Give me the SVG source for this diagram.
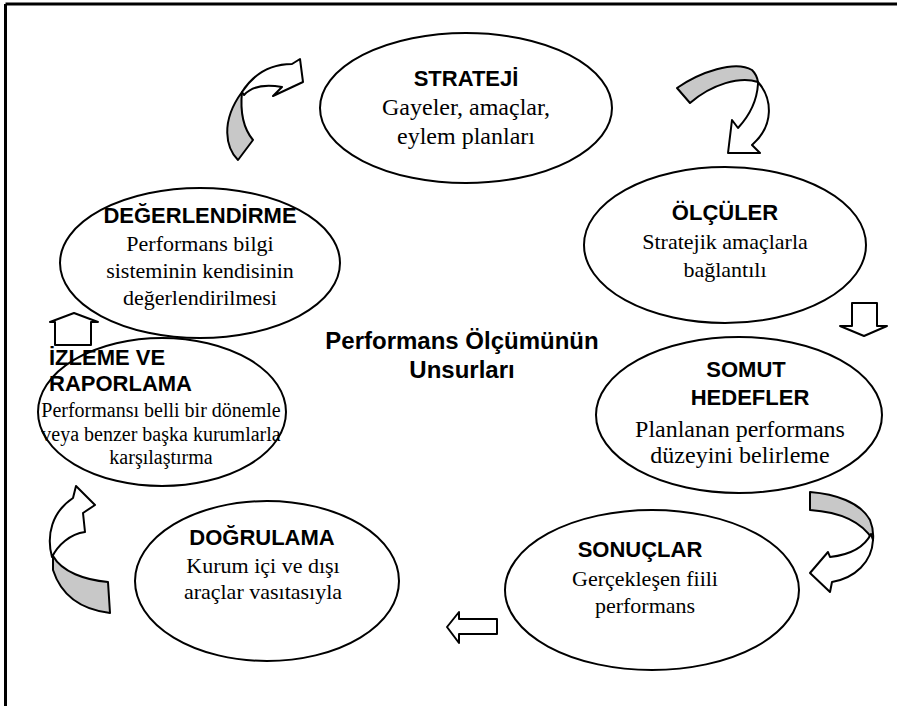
<svg xmlns="http://www.w3.org/2000/svg" width="913" height="706" viewBox="0 0 913 706">
  <style>
    .node ellipse { fill: #ffffff; stroke: #000000; stroke-width: 2; }
    .hd { font-family: "Liberation Sans", Arial, sans-serif; font-weight: bold; font-size: 22px; fill: #000; text-anchor: middle; }
    .tx { font-family: "Liberation Serif", "Times New Roman", serif; font-size: 22px; fill: #000; text-anchor: middle; }
    .title { font-family: "Liberation Sans", Arial, sans-serif; font-weight: bold; font-size: 24px; fill: #000; text-anchor: middle; }
    .back { fill: #c8c8c8; stroke: #000; stroke-width: 2; stroke-linejoin: round; }
    .front { fill: #ffffff; stroke: #000; stroke-width: 2; stroke-linejoin: round; }
    .frame { fill: none; stroke: #000; stroke-width: 3; }
  </style>

  <rect x="0" y="0" width="913" height="706" fill="#ffffff"/>

  <!-- page frame -->
  <g id="frame">
    <line class="frame" x1="5.5" y1="4" x2="897" y2="4"/>
    <line class="frame" x1="5.5" y1="4" x2="5.5" y2="706"/>
  </g>

  <!-- connectors: block arrows and twisted curved arrows -->
  <g id="connectors">
    <!-- STRATEJİ -> ÖLÇÜLER -->
    <g id="arrow-strateji-olculer">
      <path class="back" d="M677,88 C700,72 735,60 752,70 Q757,75 758,82 C740,76 712,84 690,103 Z"/>
      <path class="front" d="M758,82 C772,98 775,125 752,145 L760,153 L728,153 L732,120 L738,128 C750,115 757,100 758,84 Z"/>
    </g>
    <!-- ÖLÇÜLER -> SOMUT HEDEFLER -->
    <path id="arrow-olculer-somut" class="front" d="M852,303 L877,303 L877,326 L887,326 L864,336 L840,326 L852,326 Z"/>
    <!-- SOMUT HEDEFLER -> SONUÇLAR -->
    <g id="arrow-somut-sonuclar">
      <path class="back" d="M810,492 C835,494 860,502 870,520 Q874,530 873,540 C862,522 840,512 810,510 Z"/>
      <path class="front" d="M873,540 C872,562 855,578 832,582 L830,592 L810,573 L828,552 L830,557 C848,555 864,548 871,534 Z"/>
    </g>
    <!-- SONUÇLAR -> DOĞRULAMA -->
    <path id="arrow-sonuclar-dogrulama" class="front" d="M497,619 L497,634 L459,634 L459,643 L447,627 L459,612 L459,619 Z"/>
    <!-- DOĞRULAMA -> İZLEME VE RAPORLAMA -->
    <g id="arrow-dogrulama-izleme">
      <path class="back" d="M53,556 C62,572 85,580 108,582 L110,613 C85,610 62,598 53,570 Z"/>
      <path class="front" d="M52,557 C46,535 52,512 73,498 L76,486 L95,505 L83,513 L85,532 C70,534 58,545 52,557 Z"/>
    </g>
    <!-- İZLEME VE RAPORLAMA -> DEĞERLENDİRME -->
    <path id="arrow-izleme-degerlendirme" class="front" d="M55,345 L55,322 L50,322 L74,313 L98,322 L91,322 L91,345 Z"/>
    <!-- DEĞERLENDİRME -> STRATEJİ -->
    <g id="arrow-degerlendirme-strateji">
      <path class="back" d="M238,160 C226,148 220,122 242,92 C240,112 243,128 253,140 Z"/>
      <path class="front" d="M242,92 C255,72 272,64 292,64 L300,59 L303,82 L273,96 L282,87 C265,84 252,86 244,95 Z"/>
    </g>
  </g>

  <g id="node-strateji" class="node">
    <ellipse cx="466" cy="108" rx="146" ry="75"/>
    <text class="hd" x="466" y="86">STRATEJİ</text>
    <text class="tx" x="466" y="115" style="font-size:24px">Gayeler, amaçlar,</text>
    <text class="tx" x="466" y="144" style="font-size:24px">eylem planları</text>
  </g>

  <g id="node-olculer" class="node">
    <ellipse cx="725" cy="245" rx="141" ry="78"/>
    <text class="hd" x="725" y="220">ÖLÇÜLER</text>
    <text class="tx" x="725" y="249">Stratejik amaçlarla</text>
    <text class="tx" x="725" y="277">bağlantılı</text>
  </g>

  <g id="node-somut-hedefler" class="node">
    <ellipse cx="739" cy="415" rx="143" ry="78"/>
    <text class="hd" x="746" y="377">SOMUT</text>
    <text class="hd" x="750" y="405">HEDEFLER</text>
    <text class="tx" x="740" y="437" style="font-size:24px">Planlanan performans</text>
    <text class="tx" x="740" y="463" style="font-size:24px">düzeyini belirleme</text>
  </g>

  <g id="node-sonuclar" class="node">
    <ellipse cx="652" cy="590" rx="147" ry="80"/>
    <text class="hd" x="640" y="557">SONUÇLAR</text>
    <text class="tx" x="645" y="586">Gerçekleşen fiili</text>
    <text class="tx" x="645" y="613">performans</text>
  </g>

  <g id="node-dogrulama" class="node">
    <ellipse cx="267" cy="581" rx="132" ry="80"/>
    <text class="hd" x="262" y="545">DOĞRULAMA</text>
    <text class="tx" x="263" y="573">Kurum içi ve dışı</text>
    <text class="tx" x="263" y="599">araçlar vasıtasıyla</text>
  </g>

  <g id="node-izleme-raporlama" class="node">
    <ellipse cx="162" cy="412" rx="124" ry="74"/>
    <text class="hd" x="49" y="365" style="text-anchor:start">İZLEME VE</text>
    <text class="hd" x="49" y="391" style="text-anchor:start">RAPORLAMA</text>
    <text class="tx" x="161" y="417" style="font-size:20px">Performansı belli bir dönemle</text>
    <text class="tx" x="161" y="441" style="font-size:20px">veya benzer başka kurumlarla</text>
    <text class="tx" x="161" y="464" style="font-size:20px">karşılaştırma</text>
  </g>

  <g id="node-degerlendirme" class="node">
    <ellipse cx="200" cy="263" rx="140" ry="75"/>
    <text class="hd" x="200" y="223">DEĞERLENDİRME</text>
    <text class="tx" x="200" y="251">Performans bilgi</text>
    <text class="tx" x="200" y="278">sisteminin kendisinin</text>
    <text class="tx" x="200" y="305">değerlendirilmesi</text>
  </g>

  <g id="center-title">
    <text class="title" x="462" y="349">Performans Ölçümünün</text>
    <text class="title" x="462" y="378">Unsurları</text>
  </g>
</svg>
